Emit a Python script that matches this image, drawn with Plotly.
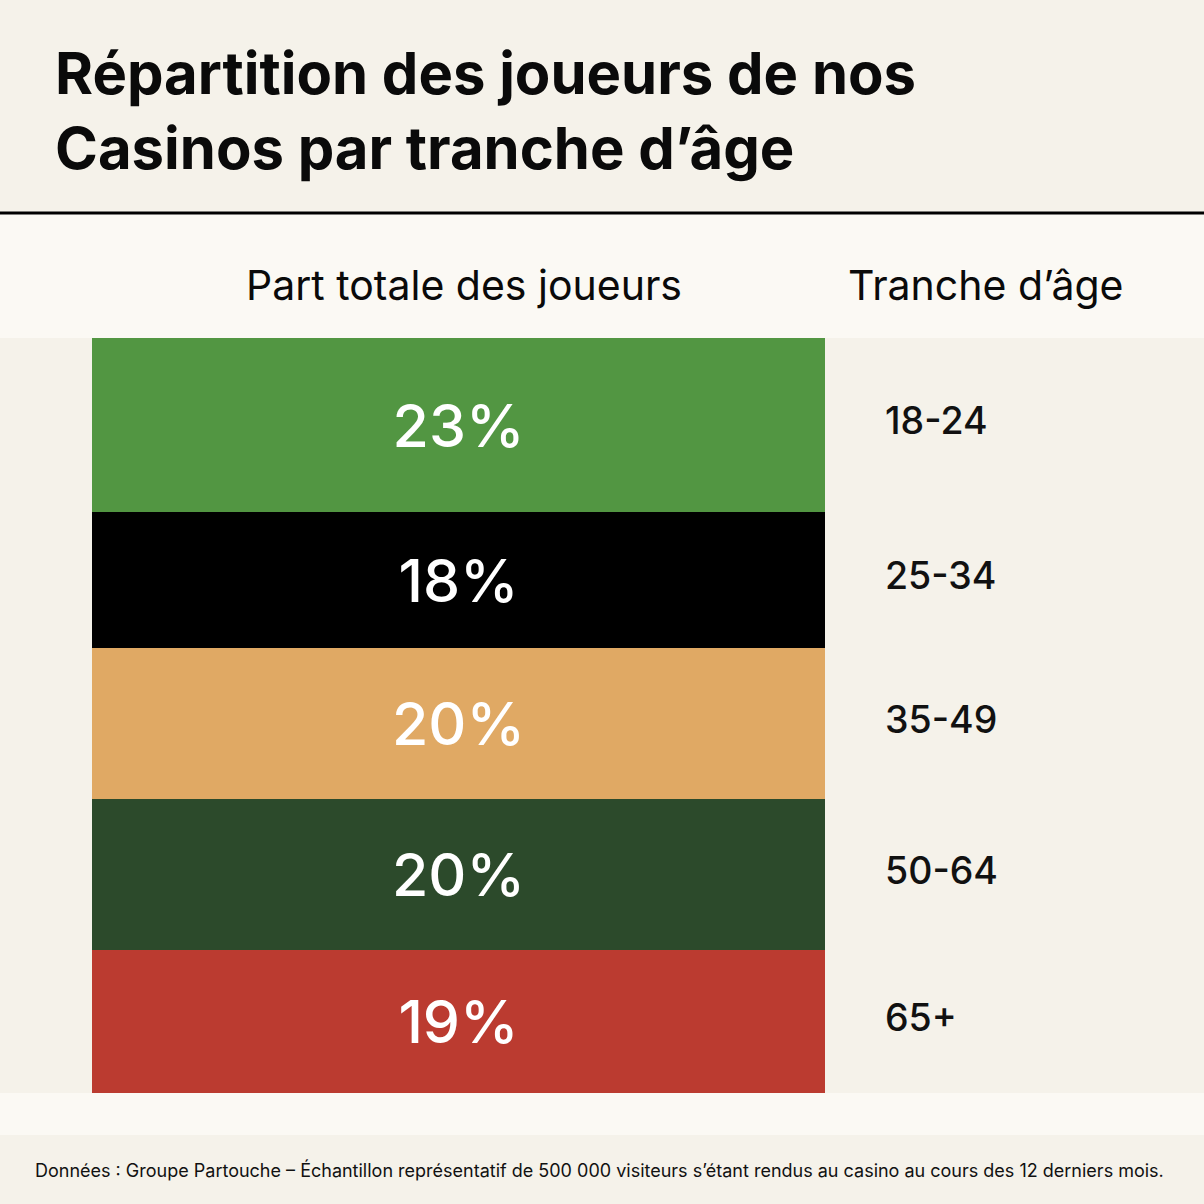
import plotly.graph_objects as go

# ---- data ----
age_groups = ["18-24", "25-34", "35-49", "50-64", "65+"]
shares = [23, 18, 20, 20, 19]
colors = ["#529642", "#000000", "#e0a964", "#2c4a2b", "#bb3b30"]
category = ["Part totale des joueurs"]

title_text = "Répartition des joueurs de nos<br>Casinos par tranche d’âge"
col_header_left = "Part totale des joueurs"
col_header_right = "Tranche d’âge"
footer_text = ("Données : Groupe Partouche – Échantillon représentatif de 500 000 "
               "visiteurs s’étant rendus au casino au cours des 12 derniers mois.")

# ---- layout geometry (pixels) ----
W = H = 1204
L, R, T, B = 92, 825, 338, 1093   # plot area in pixels
FONT = "Inter"
BG = "#f5f2ea"
BAND = "#fbf9f4"


def px_x(px):
    return (px - L) / (R - L)


def px_y(py):
    return (B - py) / (B - T)


fig = go.Figure()
for grp, val, col in zip(age_groups, shares, colors):
    fig.add_trace(go.Bar(
        x=category, y=[val], name=grp,
        marker=dict(color=col, line=dict(width=0)),
        text=[f"{val}%"], textposition="inside", insidetextanchor="middle",
        textangle=0,
        textfont=dict(family=FONT, size=59, color="white", weight=500),
        hoverinfo="skip",
    ))

annotations = []
# age labels, aligned to the middle of each segment
cum = 0
for grp, val in zip(age_groups, shares):
    mid = cum + val / 2
    cum += val
    annotations.append(dict(
        x=px_x(883), xref="paper", y=mid, yref="y", text=grp,
        xanchor="left", yanchor="middle", showarrow=False, yshift=4,
        font=dict(family=FONT, size=37.5, color="#111111", weight=500),
    ))

annotations += [
    dict(x=px_x(53), xref="paper", y=px_y(110), yref="paper", text=title_text,
         xanchor="left", yanchor="middle", align="left", showarrow=False,
         font=dict(family=FONT, size=58, color="#0a0a0a", weight=700)),
    dict(x=px_x(464), xref="paper", y=px_y(285), yref="paper", text=col_header_left,
         xanchor="center", yanchor="middle", showarrow=False,
         font=dict(family=FONT, size=41, color="#0a0a0a")),
    dict(x=px_x(986), xref="paper", y=px_y(285), yref="paper", text=col_header_right,
         xanchor="center", yanchor="middle", showarrow=False,
         font=dict(family=FONT, size=41, color="#0a0a0a")),
    dict(x=px_x(599), xref="paper", y=px_y(1170), yref="paper", text=footer_text,
         xanchor="center", yanchor="middle", showarrow=False,
         font=dict(family=FONT, size=18, color="#111111")),
]

shapes = [
    # light header band
    dict(type="rect", xref="paper", yref="paper", x0=px_x(0), x1=px_x(W),
         y0=px_y(338), y1=px_y(213), fillcolor=BAND, line=dict(width=0),
         layer="below"),
    # light footer band
    dict(type="rect", xref="paper", yref="paper", x0=px_x(0), x1=px_x(W),
         y0=px_y(1135), y1=px_y(1093), fillcolor=BAND, line=dict(width=0),
         layer="below"),
    # black rule
    dict(type="line", xref="paper", yref="paper", x0=px_x(0), x1=px_x(W),
         y0=px_y(213), y1=px_y(213), line=dict(color="#000000", width=3)),
]

fig.update_layout(
    width=W, height=H,
    margin=dict(l=L, r=W - R, t=T, b=H - B, pad=0),
    paper_bgcolor=BG, plot_bgcolor=BG,
    barmode="stack", bargap=0, showlegend=False,
    xaxis=dict(range=[-0.5, 0.5], visible=False, fixedrange=True),
    yaxis=dict(range=[100, 0], visible=False, fixedrange=True),
    annotations=annotations, shapes=shapes,
    font=dict(family=FONT),
)

fig.write_html(
    "out.html",
    config={"displayModeBar": False},
    post_script=("document.body.style.margin='0';"
                 "document.body.style.padding='0';"
                 "document.body.style.background='" + BG + "';"
                 "document.documentElement.style.overflow='hidden';"),
)
